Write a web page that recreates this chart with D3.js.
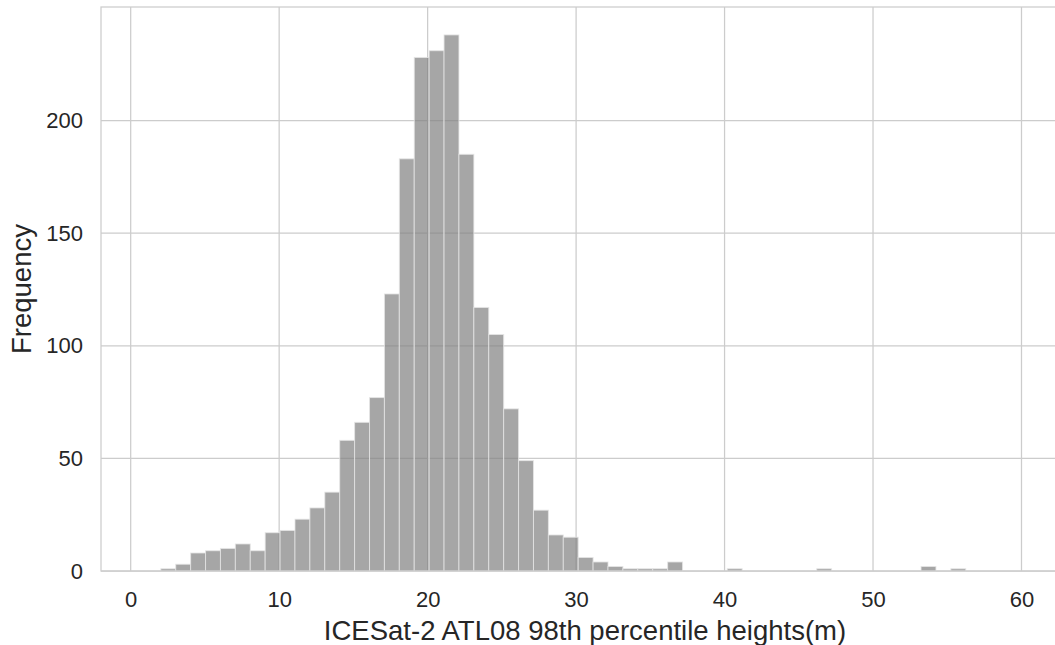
<!DOCTYPE html>
<html>
<head>
<meta charset="utf-8">
<script src="https://d3js.org/d3.v7.min.js"></script>
<style>
  body { margin: 0; background: #fff; }
  text { font-family: "Liberation Sans", Arial, sans-serif; fill: #262626; }
</style>
</head>
<body>
<div id="my_dataviz"></div>
<script>
// set the dimensions and margins of the graph
var margin = {top: 7, right: 0, bottom: 74, left: 101},
    width = 968,
    height = 564;

// histogram data: bins start at 2.03 m, width ~1.004 m
var binStart = 2.03;
var binWidth = 1.004;
var counts = [1, 3, 8, 9, 10, 12, 9, 17, 18, 23, 28, 35, 58, 66, 77, 123, 183, 228, 231, 238,
              185, 117, 105, 72, 49, 27, 16, 15, 6, 4, 2, 1, 1, 1, 4, 0, 0, 0, 1, 0,
              0, 0, 0, 0, 1, 0, 0, 0, 0, 0, 0, 2, 0, 1];
var xTicks = [0, 10, 20, 30, 40, 50, 60];
var yTicks = [0, 50, 100, 150, 200];

var bins = counts.map(function(c, i) {
  return {x0: binStart + i * binWidth, x1: binStart + (i + 1) * binWidth, n: c};
});

var svg = d3.select("#my_dataviz")
  .append("svg")
    .attr("width", 1055)
    .attr("height", 645)
  .append("g")
    .attr("transform", "translate(" + margin.left + "," + margin.top + ")");

// scales
var x = d3.scaleLinear()
  .domain([-2.0, 63.2])
  .range([0, width]);

var y = d3.scaleLinear()
  .domain([0, 250.4])
  .range([height, 0]);

// grid lines
svg.append("g")
  .selectAll("line.vg")
  .data(xTicks)
  .enter()
  .append("line")
    .attr("x1", function(d) { return x(d) })
    .attr("x2", function(d) { return x(d) })
    .attr("y1", 0)
    .attr("y2", height)
    .attr("stroke", "#cccccc")
    .attr("stroke-width", 1.25);

svg.append("g")
  .selectAll("line.hg")
  .data(yTicks)
  .enter()
  .append("line")
    .attr("x1", 0)
    .attr("x2", width)
    .attr("y1", function(d) { return y(d) })
    .attr("y2", function(d) { return y(d) })
    .attr("stroke", "#cccccc")
    .attr("stroke-width", 1.25);

// bars
svg.selectAll("rect.bar")
  .data(bins.filter(function(d) { return d.n > 0 }))
  .enter()
  .append("rect")
    .attr("x", function(d) { return x(d.x0) })
    .attr("y", function(d) { return y(d.n) })
    .attr("width", function(d) { return x(d.x1) - x(d.x0) })
    .attr("height", function(d) { return y(0) - y(d.n) })
    .attr("fill", "#808080")
    .attr("fill-opacity", 0.7)
    .attr("stroke", "#e6e6e6")
    .attr("stroke-opacity", 0.8)
    .attr("stroke-width", 1);

// frame
svg.append("rect")
  .attr("x", 0)
  .attr("y", 0)
  .attr("width", width)
  .attr("height", height)
  .attr("fill", "none")
  .attr("stroke", "#cccccc")
  .attr("stroke-width", 1.25);

// axes (labels only, no tick marks)
var xAxis = svg.append("g")
  .attr("transform", "translate(0," + height + ")")
  .call(d3.axisBottom(x).tickValues(xTicks).tickSize(0).tickPadding(20).tickFormat(d3.format("d")));
xAxis.select(".domain").remove();
xAxis.selectAll("text").style("font-size", "22px").attr("fill", "#262626");

var yAxis = svg.append("g")
  .call(d3.axisLeft(y).tickValues(yTicks).tickSize(0).tickPadding(18).tickFormat(d3.format("d")));
yAxis.select(".domain").remove();
yAxis.selectAll("text").style("font-size", "22px").attr("fill", "#262626");

// text label for the x axis
svg.append("text")
  .attr("x", width / 2)
  .attr("y", height + 69)
  .style("text-anchor", "middle")
  .style("font-size", "27.5px")
  .text("ICESat-2 ATL08 98th percentile heights(m)");

// text label for the y axis
svg.append("text")
  .attr("transform", "rotate(-90)")
  .attr("x", -height / 2)
  .attr("y", -70)
  .style("text-anchor", "middle")
  .style("font-size", "27.5px")
  .text("Frequency");
</script>
</body>
</html>
